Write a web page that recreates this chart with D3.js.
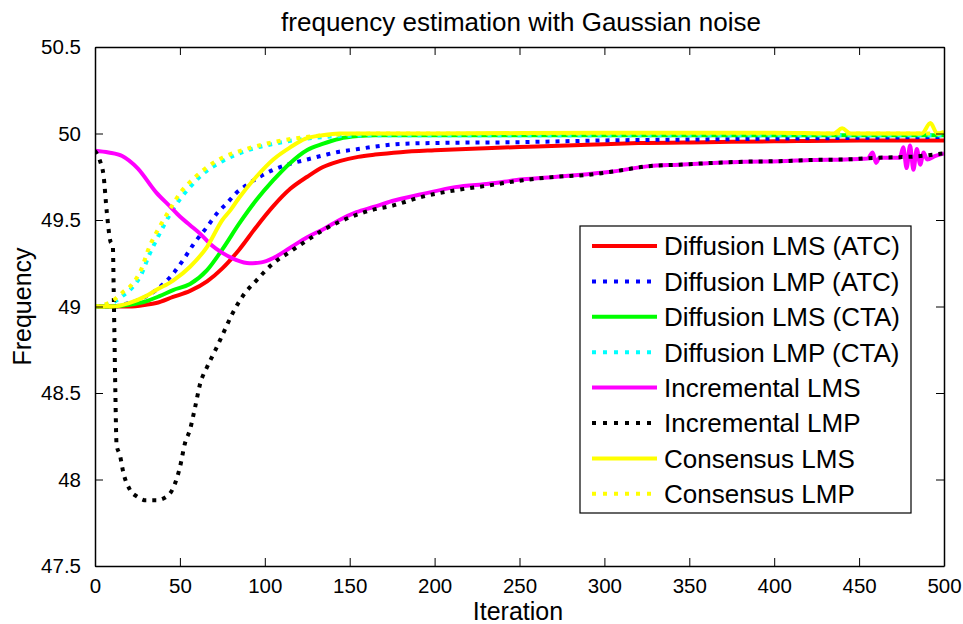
<!DOCTYPE html>
<html>
<head>
<meta charset="utf-8">
<script src="https://cdn.jsdelivr.net/npm/d3@7"></script>
<style>
  html, body { margin: 0; padding: 0; background: #fff; }
  svg { display: block; font-family: "Liberation Sans", Arial, sans-serif; }
</style>
</head>
<body>
<svg id="chart" width="963" height="624"></svg>
<script>
// ---------------- data (iteration, frequency) ----------------
const diffLmsAtc = [[0,49.0],[10,49.0],[20,49.0],[30,49.01],[36,49.02],[46,49.055],[56,49.09],[66,49.145],[75,49.22],[85,49.33],[95,49.46],[105,49.58],[115,49.68],[125,49.75],[134,49.805],[144,49.84],[155,49.865],[165,49.878],[180,49.892],[200,49.903],[230,49.915],[260,49.925],[290,49.935],[320,49.945],[360,49.95],[400,49.955],[450,49.96],[500,49.96]];
const diffLmpAtc = [[0,49.0],[10,49.0],[20,49.02],[26,49.04],[36,49.095],[46,49.19],[52,49.27],[58,49.36],[66,49.46],[72,49.54],[78,49.6],[83,49.655],[89,49.70],[97,49.75],[105,49.79],[115,49.825],[125,49.85],[135,49.875],[144,49.895],[155,49.91],[165,49.925],[180,49.94],[200,49.945],[250,49.95],[300,49.96],[350,49.965],[400,49.97],[450,49.975],[500,49.98]];
const diffLmsCta = [[0,49.0],[10,49.0],[20,49.01],[30,49.03],[38,49.06],[46,49.095],[56,49.13],[66,49.21],[75,49.33],[85,49.48],[95,49.615],[105,49.73],[115,49.83],[125,49.905],[134,49.94],[144,49.97],[155,49.985],[165,49.99],[200,49.99],[300,49.99],[400,49.99],[500,49.99]];
const diffLmpCta = [[0,49.0],[10,49.02],[16,49.06],[22,49.11],[27,49.18],[32,49.3],[38,49.42],[44,49.53],[50,49.62],[56,49.69],[64,49.77],[75,49.84],[89,49.9],[105,49.94],[124,49.97],[145,49.985],[170,49.99],[250,49.99],[350,49.99],[500,49.99]];
const incrLms = [[0,49.9],[8,49.89],[16,49.87],[25,49.8],[36,49.66],[44,49.58],[50,49.52],[56,49.47],[62,49.42],[68,49.36],[75,49.31],[83,49.27],[91,49.25],[98,49.255],[105,49.28],[115,49.34],[125,49.40],[135,49.45],[144,49.5],[154,49.545],[164,49.575],[175,49.61],[193,49.65],[212,49.69],[232,49.71],[252,49.735],[272,49.75],[290,49.765],[305,49.78],[325,49.81],[344,49.82],[364,49.83],[383,49.837],[403,49.84],[423,49.847],[442,49.85],[455,49.855],[458,49.89],[460,49.83],[462,49.86],[474,49.86],[476,49.92],[478,49.80],[480,49.93],[482,49.79],[484,49.91],[486,49.82],[488,49.89],[490,49.85],[495,49.87],[500,49.885]];
const incrLmp = [[0,49.9],[3,49.84],[5,49.76],[7,49.54],[9,49.38],[10.5,49.35],[11,49.1],[11.5,48.8],[12,48.5],[12.7,48.2],[14.7,48.14],[16.7,48.04],[20.6,47.94],[25,47.9],[30,47.88],[36,47.88],[42,47.9],[46,47.95],[50,48.07],[53,48.21],[56,48.29],[59,48.42],[62,48.556],[66,48.65],[71,48.75],[75.5,48.845],[81,48.96],[87,49.06],[95,49.15],[105,49.25],[115,49.317],[124.5,49.38],[134,49.44],[144,49.49],[154,49.53],[164,49.56],[174,49.58],[193,49.635],[213,49.673],[232,49.70],[252,49.73],[272,49.75],[289,49.76],[305,49.78],[325,49.81],[344,49.82],[364,49.83],[383,49.837],[403,49.84],[423,49.847],[442,49.85],[462,49.86],[481,49.866],[500,49.885]];
const consLms = [[0,49.0],[10,49.0],[20,49.02],[30,49.06],[36,49.095],[46,49.15],[56,49.23],[66,49.345],[75,49.5],[80,49.56],[85,49.63],[95,49.75],[105,49.85],[115,49.92],[124,49.97],[134,49.99],[144,50.0],[200,50.0],[300,50.005],[400,50.005],[435,50.0],[440,50.03],[445,50.0],[487,50.0],[492,50.06],[496,50.0],[500,50.01]];
const consLmp = [[0,49.0],[10,49.03],[16,49.08],[22,49.13],[27,49.21],[32,49.345],[38,49.46],[44,49.56],[50,49.655],[56,49.72],[64,49.79],[75,49.86],[89,49.91],[105,49.95],[124,49.98],[145,49.995],[170,50.0],[300,50.0],[400,50.0],[500,50.0]];

const seriesNames = ["Diffusion LMS (ATC)","Diffusion LMP (ATC)","Diffusion LMS (CTA)","Diffusion LMP (CTA)","Incremental LMS","Incremental LMP","Consensus LMS","Consensus LMP"];
const seriesData = [diffLmsAtc, diffLmpAtc, diffLmsCta, diffLmpCta, incrLms, incrLmp, consLms, consLmp];
const seriesColors = ["#ff0000","#0000ff","#00ff00","#00ffff","#ff00ff","#000000","#ffff00","#ffff00"];
const seriesDotted = [false,true,false,true,false,true,false,true];

const xTicks = [0,50,100,150,200,250,300,350,400,450,500];
const yTicks = [47.5,48,48.5,49,49.5,50,50.5];

// ---------------- layout ----------------
const svg = d3.select("#chart");
const L = 95, R = 944, T = 47, B = 566;

const x = d3.scaleLinear().domain([0,500]).range([L,R]);
const y = d3.scaleLinear().domain([47.5,50.5]).range([B,T]);

svg.append("defs").append("clipPath").attr("id","clip")
  .append("rect").attr("x",L).attr("y",T).attr("width",R-L).attr("height",B-T);

const line = d3.line().x(d=>x(d[0])).y(d=>y(d[1])).curve(d3.curveMonotoneX);
const g = svg.append("g").attr("clip-path","url(#clip)");
seriesData.forEach((s,i)=>{
  g.append("path").datum(s)
    .attr("d", line)
    .attr("fill","none")
    .attr("stroke", seriesColors[i])
    .attr("stroke-width", 4)
    .attr("stroke-linejoin","round")
    .attr("stroke-dasharray", seriesDotted[i] ? "4,6" : null);
});

// axes (MATLAB style, inward ticks on all sides)
const tickLen = 8;
const fmtY = d => d3.format("")(d);
const axB = svg.append("g").attr("transform",`translate(0,${B})`)
  .call(d3.axisBottom(x).tickValues(xTicks).tickSizeInner(-tickLen).tickSizeOuter(0).tickPadding(12));
const axT = svg.append("g").attr("transform",`translate(0,${T})`)
  .call(d3.axisTop(x).tickValues(xTicks).tickSizeInner(-tickLen).tickSizeOuter(0).tickFormat(""));
const axL = svg.append("g").attr("transform",`translate(${L},0)`)
  .call(d3.axisLeft(y).tickValues(yTicks).tickSizeInner(-tickLen).tickSizeOuter(0).tickPadding(14).tickFormat(fmtY));
const axR = svg.append("g").attr("transform",`translate(${R},0)`)
  .call(d3.axisRight(y).tickValues(yTicks).tickSizeInner(-tickLen).tickSizeOuter(0).tickFormat(""));
[axB,axT,axL,axR].forEach(a=>{
  a.select(".domain").attr("stroke","#000").attr("stroke-width",1.5);
  a.selectAll(".tick line").attr("stroke","#000").attr("stroke-width",1);
  a.selectAll(".tick text").attr("fill","#000").style("font-size","20.5px").style("font-family","'Liberation Sans', Arial, sans-serif");
});

// titles
svg.append("text").attr("x",521).attr("y",31).attr("text-anchor","middle")
  .style("font-size","26px").text("frequency estimation with Gaussian noise");
svg.append("text").attr("x",518).attr("y",620).attr("text-anchor","middle")
  .style("font-size","25px").text("Iteration");
svg.append("text").attr("transform",`translate(31,${(T+B)/2}) rotate(-90)`).attr("text-anchor","middle")
  .style("font-size","25px").text("Frequency");

// legend
const lg = svg.append("g");
const lgX = 580, lgY = 226, lgW = 331, lgH = 287;
lg.append("rect").attr("x",lgX).attr("y",lgY).attr("width",lgW).attr("height",lgH)
  .attr("fill","#fff").attr("stroke","#000").attr("stroke-width",1.2);
seriesNames.forEach((n,i)=>{
  const cy = 246 + i*35.4;
  lg.append("line").attr("x1",592).attr("x2",657).attr("y1",cy).attr("y2",cy)
    .attr("stroke",seriesColors[i]).attr("stroke-width",4)
    .attr("stroke-dasharray", seriesDotted[i] ? "4,7" : null);
  lg.append("text").attr("x",664).attr("y",cy).attr("dy","0.36em")
    .style("font-size","26px").text(n);
});
</script>
</body>
</html>
